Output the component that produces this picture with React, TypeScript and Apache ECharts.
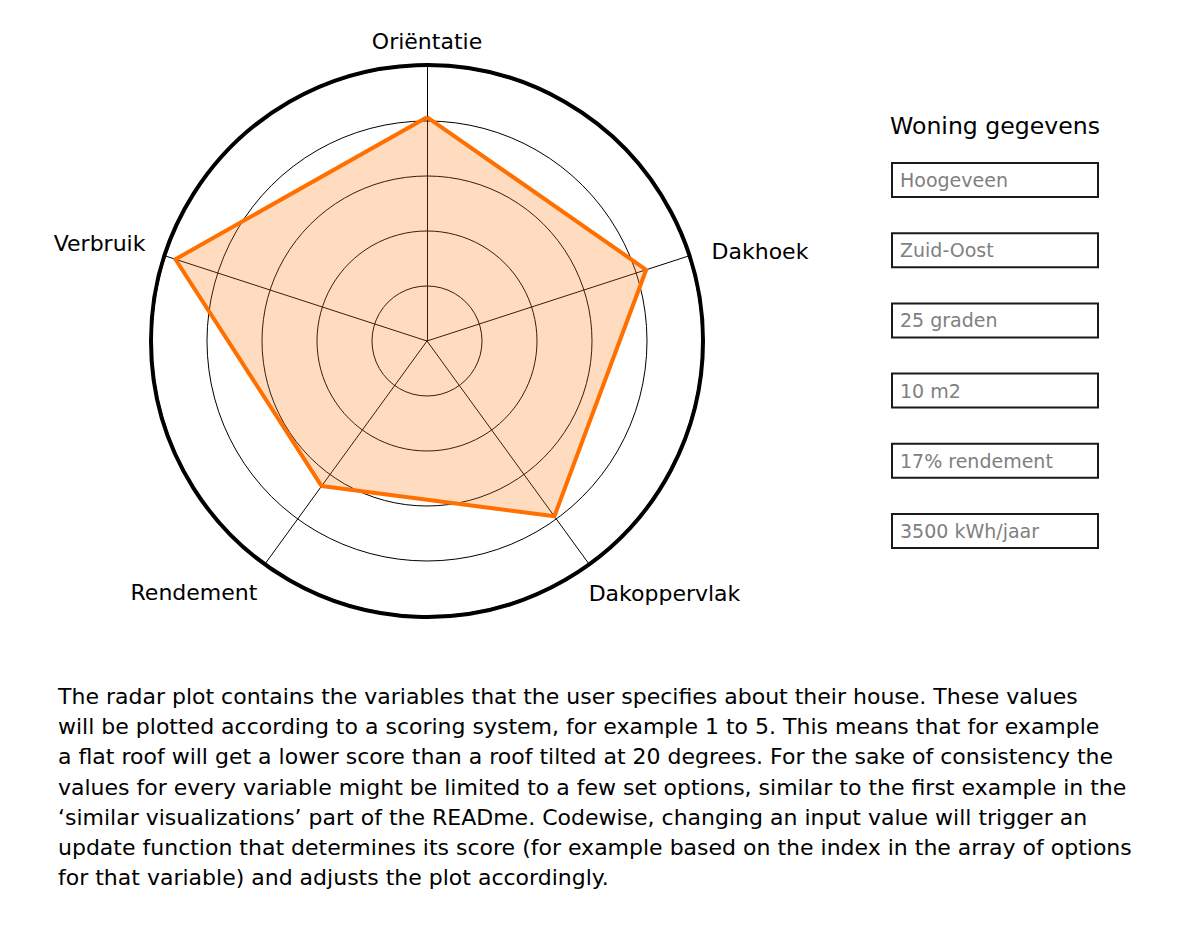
import React, { useEffect, useRef } from "react";
import * as echarts from "echarts";

const FONT = "'DejaVu Sans', sans-serif";

// Radar axes, in ECharts' counter-clockwise order starting at the top
const axes = ["Oriëntatie", "Verbruik", "Rendement", "Dakoppervlak", "Dakhoek"];
const axisMax = [5, 5, 5, 5, 5];
const scores = [4.07, 4.81, 3.26, 3.94, 4.19];

const panelTitle = "Woning gegevens";
const inputs = ["Hoogeveen", "Zuid-Oost", "25 graden", "10 m2", "17% rendement", "3500 kWh/jaar"];

const paragraph = [
  "The radar plot contains the variables that the user specifies about their house. These values",
  "will be plotted according to a scoring system, for example 1 to 5. This means that for example",
  "a flat roof will get a lower score than a roof tilted at 20 degrees. For the sake of consistency the",
  "values for every variable might be limited to a few set options, similar to the first example in the",
  "\u2018similar visualizations\u2019 part of the READme. Codewise, changing an input value will trigger an",
  "update function that determines its score (for example based on the index in the array of options",
  "for that variable) and adjusts the plot accordingly.",
];

// label offsets (padding: top, right, bottom, left) per axis
const namePadding = [
  [0, 0, 14, 0],
  [0, 20, 26, 0],
  [59, 8, 0, 0],
  [61, 0, 0, 0],
  [0, 0, 10, 23],
];

export default function App() {
  const ref = useRef<HTMLDivElement>(null);

  useEffect(() => {
    document.body.style.margin = "0";
    const chart = echarts.init(ref.current!, undefined, { renderer: "svg" });

    const boxTop = 163;
    const boxStep = 70.2;
    const graphics: any[] = [
      {
        type: "text",
        left: 890,
        top: 114,
        style: { text: panelTitle, font: `23.6px ${FONT}`, fill: "#000" },
      },
    ];
    inputs.forEach((t, i) => {
      const y = boxTop + i * boxStep;
      graphics.push({
        type: "rect",
        shape: { x: 892, y, width: 206, height: 34 },
        style: { fill: "#fff", stroke: "#1a1a1a", lineWidth: 2 },
      });
      graphics.push({
        type: "text",
        x: 900,
        y: y + 17,
        style: {
          text: t,
          font: `19px ${FONT}`,
          fill: "#808080",
          verticalAlign: "middle",
        },
      });
    });
    graphics.push({
      type: "text",
      x: 58,
      y: 681,
      style: {
        text: paragraph.join("\n"),
        font: `22px ${FONT}`,
        lineHeight: 30.3,
        fill: "#000",
      },
    });

    const rich: any = {};
    namePadding.forEach((p, i) => {
      rich["n" + i] = { padding: p, fontSize: 22, fontFamily: FONT, color: "#000" };
    });

    chart.setOption({
      animation: false,
      backgroundColor: "#fff",
      radar: [
        {
          center: [427, 341],
          radius: 275,
          startAngle: 90,
          splitNumber: 5,
          shape: "circle",
          indicator: axes.map((name, i) => ({ name, max: axisMax[i], min: 0 })),
          nameGap: 0,
          axisName: {
            color: "#000",
            fontSize: 22,
            fontFamily: FONT,
            formatter: (name: string) => `{n${axes.indexOf(name)}|${name}}`,
            rich,
          },
          axisLine: { lineStyle: { color: "#000", width: 1 } },
          splitLine: { lineStyle: { color: "#000", width: 1 } },
          splitArea: { show: false },
          axisTick: { show: false },
          axisLabel: { show: false },
        },
        {
          center: [427, 341],
          radius: 276,
          startAngle: 90,
          splitNumber: 1,
          shape: "circle",
          indicator: axes.map((_, i) => ({ name: "", max: axisMax[i], min: 0 })),
          axisName: { show: false },
          axisLine: { show: false },
          splitLine: { lineStyle: { color: "#000", width: 4 } },
          splitArea: { show: false },
          axisTick: { show: false },
          axisLabel: { show: false },
        },
      ],
      series: [
        {
          type: "radar",
          radarIndex: 0,
          symbol: "none",
          lineStyle: { color: "#FF7000", width: 4 },
          areaStyle: { color: "rgb(255,112,0)", opacity: 0.25 },
          data: [{ value: scores, name: "Score" }],
        },
      ],
      graphic: graphics,
    });

    return () => chart.dispose();
  }, []);

  return <div ref={ref} style={{ width: 1200, height: 930, position: "absolute", left: 0, top: 0 }} />;
}
